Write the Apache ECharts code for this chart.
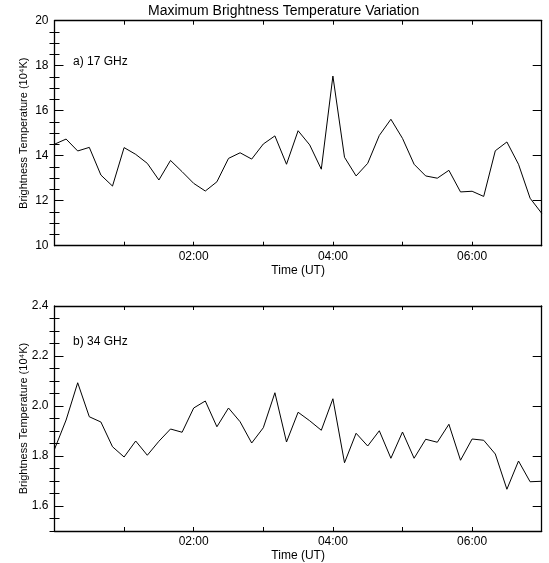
<!DOCTYPE html>
<html>
<head>
<meta charset="utf-8">
<script src="https://cdn.jsdelivr.net/npm/echarts@6/dist/echarts.min.js"></script>
<style>
html,body{margin:0;padding:0;background:#fff;}
#chart{width:549px;height:563px;}
</style>
</head>
<body>
<div id="chart"></div>
<script>
// ---- data ----
const times = ['00:00','00:10','00:20','00:30','00:40','00:50','01:00','01:10','01:20','01:30','01:40','01:50',
  '02:00','02:10','02:20','02:30','02:40','02:50','03:00','03:10','03:20','03:30','03:40','03:50',
  '04:00','04:10','04:20','04:30','04:40','04:50','05:00','05:10','05:20','05:30','05:40','05:50',
  '06:00','06:10','06:20','06:30','06:40','06:50','07:00'];
const tb17 = [14.51,14.74,14.21,14.37,13.14,12.65,14.36,14.06,13.66,12.92,13.79,13.29,
  12.77,12.43,12.84,13.88,14.13,13.85,14.52,14.88,13.62,15.11,14.48,13.40,
  17.54,13.93,13.10,13.66,14.90,15.62,14.77,13.62,13.10,13.00,13.35,12.39,
  12.42,12.19,14.22,14.61,13.62,12.11,11.44];
const tb34 = [1.827,1.944,2.093,1.957,1.936,1.837,1.796,1.860,1.803,1.859,1.908,1.895,
  1.992,2.020,1.917,1.992,1.937,1.852,1.913,2.053,1.856,1.975,1.941,1.903,
  2.029,1.773,1.891,1.840,1.901,1.791,1.896,1.791,1.867,1.855,1.927,1.783,
  1.868,1.863,1.808,1.667,1.780,1.697,1.699];
const xTickLabels = ['', '', '02:00', '', '04:00', '', '06:00', ''];
const yTicks17 = [10, 12, 14, 16, 18, 20];
const yTicks34 = [1.6, 1.8, 2.0, 2.2, 2.4];
const panelLabels = ['a) 17 GHz', 'b) 34 GHz'];
const titleText = 'Maximum Brightness Temperature Variation';
const yName = 'Brightness Temperature (10\u2074K)';
const xName = 'Time (UT)';

// ---- helpers ----
function toMin(s){ const p = s.split(':'); return (+p[0])*60 + (+p[1]); }
function minorList(min, max, step, majors){
  const out = [];
  const n = Math.round((max - min) / step);
  for (let i = 0; i <= n; i++){
    const v = +(min + i*step).toFixed(4);
    if (!majors.some(m => Math.abs(m - v) < 1e-6)) out.push(v);
  }
  return out;
}
const FONT = 'Liberation Sans, Arial, Helvetica, sans-serif';
const BLACK = '#000';

const panels = [
  {vals: tb17, min: 10, max: 20, majors: yTicks17, step: 0.5, fmt: v => String(Math.round(v)), top: 20.7},
  {vals: tb34, min: 1.5, max: 2.4, majors: yTicks34, step: 0.05, fmt: v => v.toFixed(1), top: 306}
];

const grids = [], xAxes = [], yAxes = [], series = [];
panels.forEach((p, g) => {
  grids.push({left: 54.5, top: p.top, width: 487.2, height: 225, containLabel: false});
  const xBase = {
    type: 'value', gridIndex: g, min: 0, max: 420, interval: 60,
    splitLine: {show: false},
    axisLine: {show: true, onZero: false, lineStyle: {color: BLACK, width: 1.3}},
    axisTick: {show: true, inside: true, length: 4, lineStyle: {color: BLACK, width: 1}}
  };
  xAxes.push(Object.assign({}, xBase, {
    position: 'bottom',
    axisLabel: {show: true, color: BLACK, fontSize: 12, fontFamily: FONT, margin: 5,
      formatter: v => xTickLabels[Math.round(v/60)] || ''},
    name: xName, nameLocation: 'middle', nameGap: 19, nameMoveOverlap: false,
    nameTextStyle: {color: BLACK, fontSize: 12, fontFamily: FONT}
  }));
  xAxes.push(Object.assign({}, xBase, {position: 'top', axisLabel: {show: false}}));

  const minors = minorList(p.min, p.max, p.step, p.majors);
  const yBase = {type: 'value', gridIndex: g, min: p.min, max: p.max, splitLine: {show: false}};
  ['left', 'right'].forEach(side => {
    yAxes.push(Object.assign({}, yBase, {
      position: side,
      axisLine: {show: true, onZero: false, lineStyle: {color: BLACK, width: 1.3}},
      axisTick: {show: true, inside: true, length: 9, customValues: p.majors, lineStyle: {color: BLACK, width: 1}},
      axisLabel: side === 'left'
        ? {show: true, customValues: p.majors, formatter: p.fmt, color: BLACK, fontSize: 12, fontFamily: FONT, margin: 6}
        : {show: false},
      name: side === 'left' ? yName : '',
      nameLocation: 'middle', nameGap: 25, nameRotate: 90, nameMoveOverlap: false,
      nameTextStyle: {color: BLACK, fontSize: 11, fontFamily: FONT}
    }));
    yAxes.push(Object.assign({}, yBase, {
      position: side,
      axisLine: {show: false},
      axisTick: {show: true, inside: true, length: 5, customValues: minors, lineStyle: {color: BLACK, width: 1}},
      axisLabel: {show: false}
    }));
  });

  series.push({
    type: 'line', xAxisIndex: g*2, yAxisIndex: g*4,
    data: times.map((t, i) => [toMin(t), p.vals[i]]),
    symbol: 'none', lineStyle: {color: BLACK, width: 1}, silent: true
  });
});

const chart = echarts.init(document.getElementById('chart'), null, {renderer: 'canvas'});
chart.setOption({
  backgroundColor: '#fff',
  animation: false,
  grid: grids, xAxis: xAxes, yAxis: yAxes, series: series,
  graphic: [
    {type: 'text', x: 283.7, y: 11, style: {text: titleText, font: '14px ' + FONT, fill: BLACK, align: 'center', verticalAlign: 'middle'}},
    {type: 'text', x: 73, y: 61.5, style: {text: panelLabels[0], font: '12px ' + FONT, fill: BLACK, align: 'left', verticalAlign: 'middle'}},
    {type: 'text', x: 73, y: 341.7, style: {text: panelLabels[1], font: '12px ' + FONT, fill: BLACK, align: 'left', verticalAlign: 'middle'}}
  ]
});
</script>
</body>
</html>
